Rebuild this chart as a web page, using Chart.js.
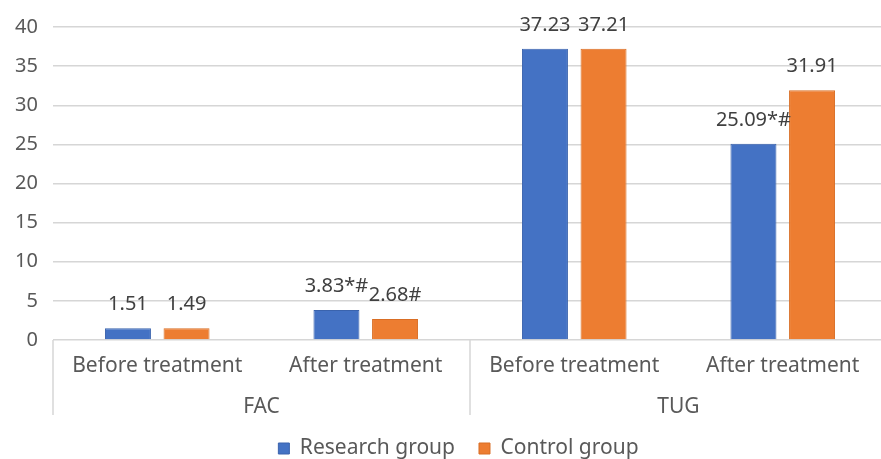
<!DOCTYPE html>
<html>
<head>
<meta charset="utf-8">
<script src="https://cdn.jsdelivr.net/npm/chart.js@4/dist/chart.umd.min.js"></script>
<style>
  html, body { margin: 0; padding: 0; background: #fff; overflow: hidden; }
  #wrap { width: 887px; height: 459px; }
</style>
</head>
<body>
<div id="wrap"><canvas id="c" width="887" height="459"></canvas></div>
<script>
// Timepoints within each outcome measure, and the measures themselves
const categories = ['Before treatment', 'After treatment', 'Before treatment', 'After treatment'];
const groups = ['FAC', 'TUG'];

// Mean scores per group
const researchValues = [1.51, 3.83, 37.23, 25.09];
const controlValues = [1.49, 2.68, 37.21, 31.91];

// Significance marks appended to the value labels
const researchMarks = ['', '*#', '', '*#'];
const controlMarks = ['', '#', '', ''];

// Value axis ticks
const yTicks = [0, 5, 10, 15, 20, 25, 30, 35, 40];

const TEXT = '#595959';
const GRID = '#d6d6d6';
const FONT = "'Noto Sans', 'DejaVu Sans', sans-serif";

// Writes each bar's value (plus its marks) just above the bar
const valueLabels = {
  id: 'valueLabels',
  afterDatasetsDraw(chart) {
    const ctx = chart.ctx;
    ctx.save();
    ctx.font = '20px ' + FONT;
    ctx.fillStyle = '#404040';
    ctx.textAlign = 'center';
    ctx.textBaseline = 'alphabetic';
    chart.data.datasets.forEach((ds, di) => {
      const meta = chart.getDatasetMeta(di);
      meta.data.forEach((bar, i) => {
        const text = ds.data[i].toFixed(2) + ds.marks[i];
        ctx.fillText(text, bar.x, bar.y - 18);
      });
    });
    ctx.restore();
  }
};

// Second row of the category axis: measure names with bracketing separators
const groupAxis = {
  id: 'groupAxis',
  afterLayout(chart) {
    // nudge the legend row a little to the right
    chart.legend.left += 15;
    chart.legend.right += 15;
  },
  afterDraw(chart) {
    const x = chart.scales.x;
    const ctx = chart.ctx;
    const per = categories.length / groups.length;
    const top = chart.chartArea.bottom;
    const bottom = top + 75;
    const edges = [];
    for (let g = 0; g <= groups.length; g++) {
      if (g === 0) edges.push(x.left);
      else if (g === groups.length) edges.push(x.right - 1);
      else edges.push((x.getPixelForValue(g * per - 1) + x.getPixelForValue(g * per)) / 2);
    }
    ctx.save();
    ctx.strokeStyle = GRID;
    ctx.lineWidth = 1.5;
    edges.forEach(px => {
      ctx.beginPath();
      ctx.moveTo(px, top);
      ctx.lineTo(px, bottom);
      ctx.stroke();
    });
    ctx.font = '21px ' + FONT;
    ctx.fillStyle = TEXT;
    ctx.textAlign = 'center';
    ctx.textBaseline = 'middle';
    groups.forEach((name, g) => {
      const cx = (x.getPixelForValue(g * per) + x.getPixelForValue(g * per + per - 1)) / 2;
      ctx.fillText(name, cx, top + 67);
    });
    ctx.restore();
  }
};

new Chart(document.getElementById('c'), {
  type: 'bar',
  data: {
    labels: categories,
    datasets: [
      {
        label: 'Research group',
        data: researchValues,
        marks: researchMarks,
        backgroundColor: '#4472C4',
        borderColor: '#3a63ad',
        borderWidth: 1,
        categoryPercentage: 0.562,
        barPercentage: 0.785
      },
      {
        label: 'Control group',
        data: controlValues,
        marks: controlMarks,
        backgroundColor: '#ED7D31',
        borderColor: '#d96e25',
        borderWidth: 1,
        categoryPercentage: 0.562,
        barPercentage: 0.785
      }
    ]
  },
  options: {
    responsive: false,
    animation: false,
    devicePixelRatio: 1,
    layout: { padding: { top: 17, left: 0, right: 0, bottom: 0 } },
    scales: {
      x: {
        type: 'category',
        grid: { display: false },
        border: { display: false },
        ticks: { color: TEXT, font: { family: FONT, size: 21 }, padding: 5, maxRotation: 0, autoSkip: false },
        afterFit(axis) { axis.height = 74; }
      },
      y: {
        min: 0,
        max: 40,
        afterBuildTicks(axis) { axis.ticks = yTicks.map(v => ({ value: v })); },
        afterFit(axis) { axis.width = 53; },
        grid: { color: GRID, lineWidth: 1.5, drawTicks: false },
        border: { display: false },
        ticks: { color: TEXT, font: { family: FONT, size: 20 }, padding: 15 }
      }
    },
    plugins: {
      legend: {
        position: 'bottom',
        maxHeight: 45,
        labels: {
          color: TEXT,
          font: { family: FONT, size: 21 },
          boxWidth: 11,
          boxHeight: 11,
          padding: 24
        }
      },
      tooltip: { enabled: false }
    }
  },
  plugins: [valueLabels, groupAxis]
});
</script>
</body>
</html>
